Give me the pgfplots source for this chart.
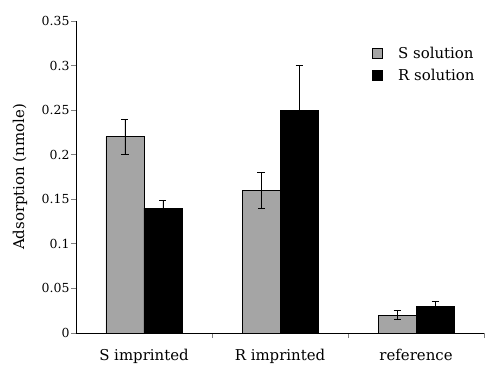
\documentclass[border=0pt]{standalone}
\usepackage{pgfplots}
\pgfplotsset{compat=1.18}
\usepackage{fontspec}
\setmainfont{DejaVu Serif}
\definecolor{bargray}{HTML}{A5A5A5}
\begin{document}
\begin{tikzpicture}[x=1bp,y=1bp]
\useasboundingbox (-76bp,-41bp) rectangle (413bp,333bp);
\begin{axis}[
  scale only axis,
  width=408bp, height=312bp,
  at={(0,0)}, anchor=south west,
  xmin=-0.5, xmax=2.5,
  ymin=0, ymax=0.35,
  axis x line*=bottom, axis y line*=left,
  axis line style={line width=0.9bp, -},
  xtick={0,1,2},
  xticklabels={S imprinted, R imprinted, reference},
  major x tick style={draw=none},
  minor xtick={0.5,1.5,2.5},
  minor x tick style={line width=0.9bp},
  minor tick length=5bp,
  x tick label style={font=\fontsize{15}{17}\selectfont, yshift=-8bp},
  ytick={0,0.05,0.1,0.15,0.2,0.25,0.3,0.35},
  yticklabels={0,0.05,0.1,0.15,0.2,0.25,0.3,0.35},
  y tick label style={font=\fontsize{12.5}{14}\selectfont, xshift=2bp},
  ytick style={line width=0.9bp},
  tick align=outside,
  major tick length=5bp,
  ylabel={Adsorption (nmole)},
  every axis y label/.style={at={(axis description cs:-0.137,0.5)}, rotate=90, anchor=center, font=\fontsize{15}{17}\selectfont},
  ybar, bar width=38bp,
  legend style={draw=none, fill=none, at={(0.717,0.93)}, anchor=north west,
    font=\fontsize{15}{17}\selectfont, row sep=5bp,
    legend cell align=left},
  legend image code/.code={\draw[#1, line width=0.8bp, draw=black] (0bp,-5bp) rectangle (10bp,5bp); \path[draw=none, fill=none] (0bp,0bp) -- (24bp,0bp);},
  error bars/error bar style={line width=0.9bp, black},
  error bars/error mark options={rotate=90, mark size=3.5bp, line width=0.9bp, black},
]
\addplot[fill=bargray, draw=black, line width=0.8bp, bar shift=-19bp,
  error bars/.cd, y dir=both, y explicit]
  coordinates {(0,0.22) +- (0,0.02) (1,0.16) +- (0,0.02) (2,0.02) +- (0,0.005)};
\addplot[fill=black, draw=black, line width=0.8bp, bar shift=19bp,
  error bars/.cd, y dir=both, y explicit]
  coordinates {(0,0.14) +- (0,0.009) (1,0.25) +- (0,0.05) (2,0.03) +- (0,0.005)};
\legend{S solution, R solution}
\end{axis}
\end{tikzpicture}
\end{document}
